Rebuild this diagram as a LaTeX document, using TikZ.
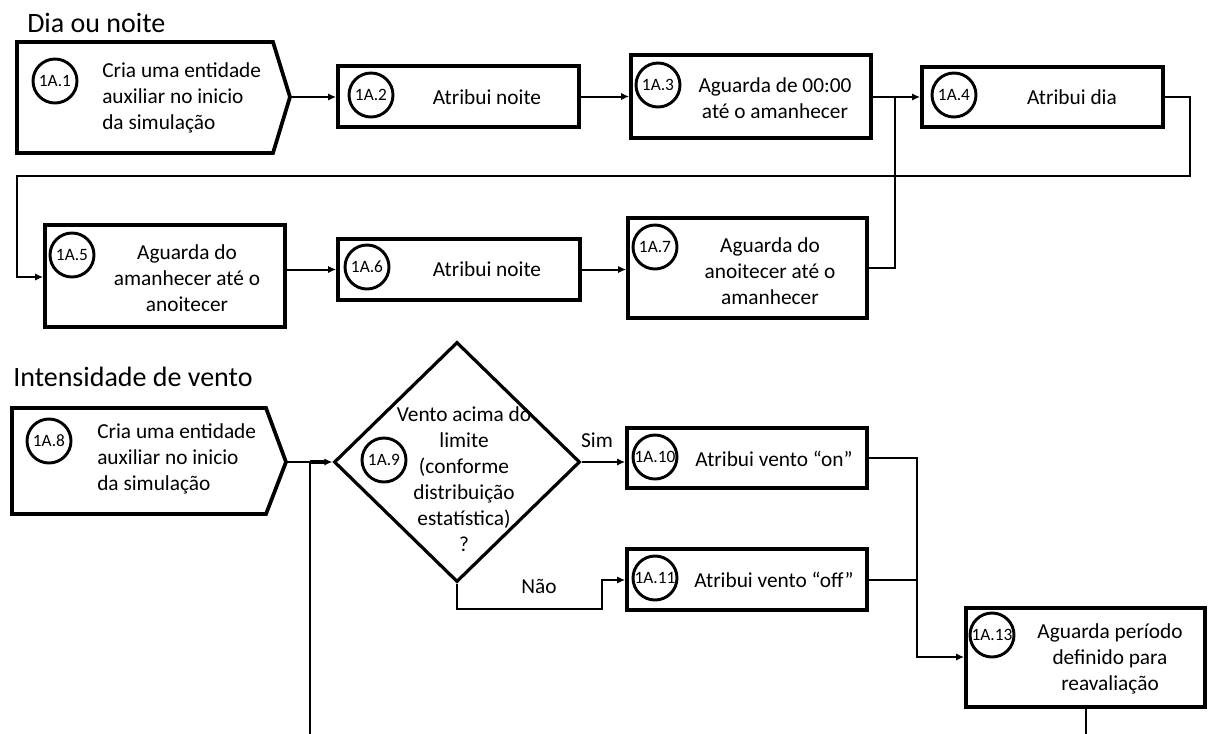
\documentclass[tikz,border=0pt]{standalone}
\usepackage{fontspec}
\setmainfont{Carlito}
\usetikzlibrary{arrows.meta,shapes.geometric,fit}
\begin{document}
\begin{tikzpicture}[x=0.75pt,y=-0.75pt,
  border/.style={draw, line width=2.8pt, line join=miter},
  stepbox/.style={border, rectangle, inner sep=0pt},
  idcircle/.style={draw, circle, line width=2.2pt, minimum size=33pt, inner sep=0pt,
                   font=\fontsize{13}{15}\selectfont},
  txt/.style={font=\fontsize{16}{19.4}\selectfont, align=center, inner sep=0pt},
  heading/.style={font=\fontsize{21}{25}\selectfont, anchor=base west, inner sep=0pt},
  wire/.style={line width=1.5pt},
  conn/.style={wire, -{Latex[length=6pt,width=5.5pt]}},
]
\useasboundingbox[fill=white] (0,0) rectangle (1208,733);

% ---------------- Dia ou noite ----------------
\node[heading] (h1) at (27,32) {Dia ou noite};

% create node (pentagon)
\draw[border] (17,42) -- (273,42) -- (290,97) -- (273,153) -- (17,153) -- cycle;
\coordinate (e1) at (290,97);
\node[idcircle] (c1) at (55,81) {1A.1};
\node[txt, align=left, anchor=west] (n1) at (102,98) {Cria uma entidade\\auxiliar no inicio\\da simulação};

\node[stepbox, fit={(338,66) (579,127)}] (b2) {};
\node[idcircle] (c2) at (371,95) {1A.2};
\node[txt] (n2) at (487,97) {Atribui noite};

\node[stepbox, fit={(631,55) (871,138)}] (b3) {};
\node[idcircle] (c3) at (658,85) {1A.3};
\node[txt] (n3) at (775,98) {Aguarda de 00:00\\até o amanhecer};

\node[stepbox, fit={(922,67) (1163,127)}] (b4) {};
\node[idcircle] (c4) at (954,95) {1A.4};
\node[txt] (n4) at (1072,97) {Atribui dia};

\node[stepbox, fit={(45,225) (285,327)}] (b5) {};
\node[idcircle] (c5) at (72,255) {1A.5};
\node[txt] (n5) at (187,278) {Aguarda do\\amanhecer até o\\anoitecer};

\node[stepbox, fit={(338,239) (580,300)}] (b6) {};
\node[idcircle] (c6) at (367,267) {1A.6};
\node[txt] (n6) at (487,269) {Atribui noite};

\node[stepbox, fit={(628,218) (867,318)}] (b7) {};
\node[idcircle] (c7) at (655,247) {1A.7};
\node[txt] (n7) at (770,271) {Aguarda do\\anoitecer até o\\amanhecer};

% connectors
\coordinate (j1) at (895,97);
\coordinate (r1) at (1190,176);
\coordinate (l1) at (17,176);
\coordinate (l2) at (17,277);
\draw[conn] (e1) -- (e1 -| b2.west);
\draw[conn] (b2.east) -- (b2.east -| b3.west);
\draw[conn] (b4.west -| b3.east) -- (b4.west);
\draw[conn] (b4.east) -| (r1) -- (l1) -- (l2) -- (l2 -| b5.west);
\draw[conn] (b6.west -| b5.east) -- (b6.west);
\draw[conn] (b6.east) -- (b6.east -| b7.west);
\draw[wire] (b7.east) -| (j1);

% ---------------- Intensidade de vento ----------------
\node[heading] (h2) at (13,386) {Intensidade de vento};

\draw[border] (12,408) -- (266,408) -- (286,462) -- (266,514) -- (12,514) -- cycle;
\coordinate (e8) at (286,462);
\node[idcircle] (c8) at (49,441) {1A.8};
\node[txt, align=left, anchor=west] (n8) at (97,459) {Cria uma entidade\\auxiliar no inicio\\da simulação};

\node[draw, diamond, aspect=1, line width=2.4pt, inner sep=0pt,
      minimum width=184.5pt, minimum height=180pt] (d9) at (457,462) {};
\node[idcircle] (c9) at (384,460) {1A.9};
\node[txt] (n9) at (464,479) {Vento acima do\\limite\\(conforme\\distribuição\\estatística)\\?};

\node[stepbox, fit={(627,428) (867,488)}] (b10) {};
\node[idcircle] (c10) at (655,457) {1A.10};
\node[txt] (n10) at (774,459) {Atribui vento “on”};

\node[stepbox, fit={(627,549) (867,610)}] (b11) {};
\node[idcircle] (c11) at (655,578) {1A.11};
\node[txt] (n11) at (774,580) {Atribui vento “off”};

\node[stepbox, fit={(966,608) (1205,707)}] (b13) {};
\node[idcircle] (c13) at (992,635) {1A.13};
\node[txt] (n13) at (1110,659) {Aguarda período\\definido para\\reavaliação};

\node[txt] (sim) at (597,440) {Sim};
\node[txt] (nao) at (539,586) {Não};

% connectors
\coordinate (j2) at (310,462);
\coordinate (lb) at (310,740);
\coordinate (q1) at (457,609);
\coordinate (q2) at (602,609);
\coordinate (q3) at (602,580);
\coordinate (j3) at (917,580);
\coordinate (j4) at (917,657);
\draw[wire] (e8) -- (j2);
\draw[wire] (lb) -- (j2);
\draw[conn, line width=3pt] (j2) -- (j2 -| d9.west);
\draw[conn] (d9.east) -- (d9.east -| b10.west);
\draw[conn] (d9.south) -- (q1) -- (q2) -- (q3) -- (q3 -| b11.west);
\draw[conn] (b10.east) -| (j4) -- (j4 -| b13.west);
\draw[wire] (b11.east) -- (b11.east -| j3);
\draw[wire] (b13.south) -- ++(0,40);
\end{tikzpicture}
\end{document}
